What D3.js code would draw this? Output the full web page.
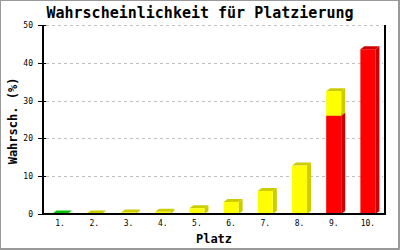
<!DOCTYPE html>
<html lang="de">
<head>
<meta charset="UTF-8">
<title>Wahrscheinlichkeit für Platzierung</title>
<script src="https://d3js.org/d3.v7.min.js"></script>
<style>
    body { margin: 0; background: #fff; }
    text { font-family: 'DejaVu Sans Mono', monospace; fill: #000; }
</style>
</head>
<body>
<div id="chart"></div>
<script>
// data
const places = ["1.", "2.", "3.", "4.", "5.", "6.", "7.", "8.", "9.", "10."];
const redValues    = [0, 0, 0, 0, 0, 0, 0, 0, 26, 43.6];
const yellowValues = [0, 0.1, 0.4, 0.6, 1.5, 3.2, 6.1, 12.8, 6.5, 0];
const greenValues  = [0.1, 0, 0, 0, 0, 0, 0, 0, 0, 0];
const yTicks = [0, 10, 20, 30, 40, 50];

const seriesKeys = ["red", "yellow", "green"];
const frontColor = { red: "#ff0000", yellow: "#ffff00", green: "#00ee00" };
const sideColor  = { red: "#cc0000", yellow: "#cccc00", green: "#00c000" };

const width = 400, height = 250;
const plotLeft = 43, plotRight = 385, plotTop = 25, plotBottom = 214;
const dx = 4, dy = 3; // 3d depth

const rows = places.map((p, i) => ({
    place: p, red: redValues[i], yellow: yellowValues[i], green: greenValues[i]
}));

const svg = d3.select("#chart").append("svg")
    .attr("width", width)
    .attr("height", height);

svg.append("rect")
    .attr("x", 0.5).attr("y", 0.5)
    .attr("width", width - 2).attr("height", height - 2)
    .attr("fill", "#fff")
    .attr("stroke", "#999");
svg.append("path")
    .attr("d", `M${width - 0.5},0V${height - 0.5}H0`)
    .attr("fill", "none").attr("stroke", "#999");

const x = d3.scaleBand()
    .domain(places)
    .range([plotLeft, plotRight])
    .paddingInner(0.56)
    .paddingOuter(0.28);

const y = d3.scaleLinear()
    .domain([0, 50])
    .range([plotBottom, plotTop]);

// grid lines
svg.append("g")
    .selectAll("line")
    .data(yTicks.filter(d => d > 0))
    .enter().append("line")
    .attr("x1", plotLeft + 3).attr("x2", plotRight - 2)
    .attr("y1", d => Math.round(y(d)) + 0.5)
    .attr("y2", d => Math.round(y(d)) + 0.5)
    .attr("stroke", "#c0c0c0")
    .attr("stroke-dasharray", "3,3");

// bars
const stacked = d3.stack().keys(seriesKeys)(rows);

stacked.forEach(layer => {
    const key = layer.key;
    layer.forEach((seg, i) => {
        if (seg[1] - seg[0] <= 0) return;
        const x0 = x(places[i]);
        const x1 = x0 + x.bandwidth();
        const yb = y(seg[0]);
        const yt = y(seg[1]);
        const g = svg.append("g");
        g.append("polygon")
            .attr("points", [[x1, yb], [x1 + dx, yb - dy], [x1 + dx, yt - dy], [x1, yt]].join(" "))
            .attr("fill", sideColor[key]);
        g.append("polygon")
            .attr("points", [[x0, yt], [x0 + dx, yt - dy], [x1 + dx, yt - dy], [x1, yt]].join(" "))
            .attr("fill", sideColor[key]);
        g.append("rect")
            .attr("x", x0).attr("y", yt)
            .attr("width", x1 - x0).attr("height", yb - yt)
            .attr("fill", frontColor[key]);
    });
});

// axes frame
svg.append("line")
    .attr("x1", plotLeft).attr("x2", plotLeft)
    .attr("y1", plotTop).attr("y2", plotBottom + 1)
    .attr("stroke", "#000").attr("stroke-width", 2);
svg.append("line")
    .attr("x1", plotRight).attr("x2", plotRight)
    .attr("y1", plotTop).attr("y2", plotBottom + 1)
    .attr("stroke", "#000").attr("stroke-width", 2);
svg.append("line")
    .attr("x1", plotLeft).attr("x2", plotRight)
    .attr("y1", plotBottom).attr("y2", plotBottom)
    .attr("stroke", "#000").attr("stroke-width", 2);

// y ticks + labels
const yAxis = svg.append("g");
yAxis.selectAll("line")
    .data(yTicks)
    .enter().append("line")
    .attr("x1", plotLeft - 5).attr("x2", plotLeft + 3)
    .attr("y1", d => Math.round(y(d)) + 0.5)
    .attr("y2", d => Math.round(y(d)) + 0.5)
    .attr("stroke", "#000");
yAxis.selectAll("text")
    .data(yTicks)
    .enter().append("text")
    .attr("x", plotLeft - 10)
    .attr("y", d => y(d) + 3)
    .attr("text-anchor", "end")
    .style("font-size", "8px")
    .text(d => d);

// x labels
svg.append("g")
    .selectAll("text")
    .data(places)
    .enter().append("text")
    .attr("x", d => x(d) + x.bandwidth() / 2)
    .attr("y", 226)
    .attr("text-anchor", "middle")
    .style("font-size", "8px")
    .text(d => d);

// titles
svg.append("text")
    .attr("x", 200).attr("y", 18)
    .attr("text-anchor", "middle")
    .style("font-size", "15px")
    .style("font-weight", "bold")
    .text("Wahrscheinlichkeit für Platzierung");

svg.append("text")
    .attr("x", (plotLeft + plotRight) / 2).attr("y", 243)
    .attr("text-anchor", "middle")
    .style("font-size", "12px")
    .style("font-weight", "bold")
    .text("Platz");

svg.append("text")
    .attr("transform", "translate(16.5," + 121 + ") rotate(-90)")
    .attr("text-anchor", "middle")
    .style("font-size", "12px")
    .style("font-weight", "bold")
    .text("Wahrsch. (%)");
</script>
</body>
</html>
